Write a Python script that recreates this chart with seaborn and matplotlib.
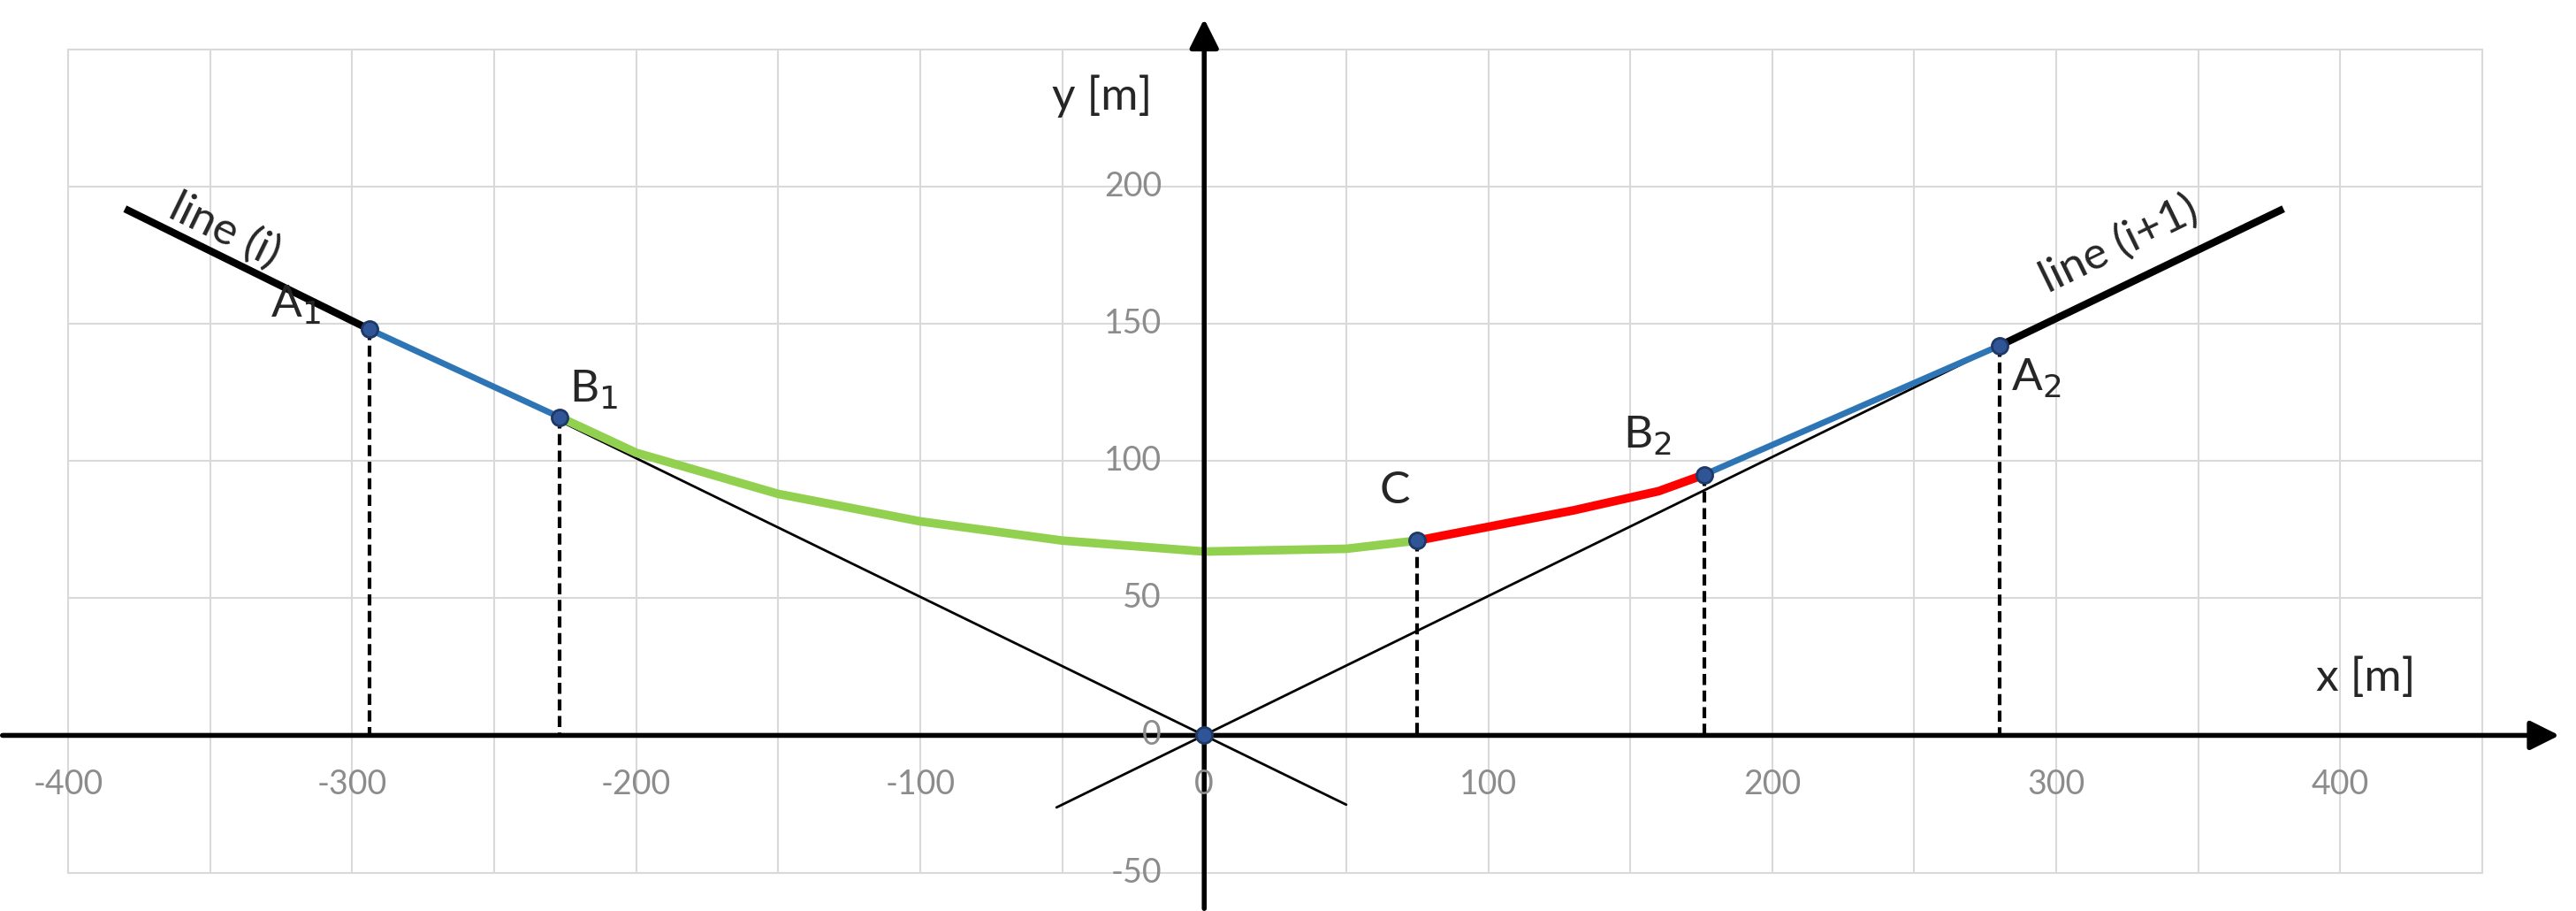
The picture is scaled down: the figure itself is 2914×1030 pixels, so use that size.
import matplotlib
matplotlib.use("Agg")
import matplotlib.pyplot as plt
import seaborn as sns
import numpy as np

sns.set_theme(style="white")
plt.rcParams['font.family'] = ['Lato', 'DejaVu Sans']

green_x = [-227, -200, -150, -100, -50, 0, 50, 75]
green_y = [116, 103, 88, 78, 71, 67, 68, 71]
red_x = [75, 100, 130, 160, 176]
red_y = [71, 76, 82, 89, 95]
pts_x = [-294, -227, 75, 176, 280, 0]
pts_y = [148, 116, 71, 95, 142, 0]
xticks = [-400, -300, -200, -100, 0, 100, 200, 300, 400]
yticks = [-50, 0, 50, 100, 150, 200]

fig = plt.figure(figsize=(29.14, 10.3), dpi=100)
ax = fig.add_axes([0, 0, 1, 1])
ax.set_xlim(-424, 483)
ax.set_ylim(-64, 268)
ax.axis('off')

for gx in np.arange(-400, 451, 50):
    ax.plot([gx, gx], [-50, 250], color='#d9d9d9', lw=1.5, zorder=0)
for gy in np.arange(-50, 251, 50):
    ax.plot([-400, 450], [gy, gy], color='#d9d9d9', lw=1.5, zorder=0)

# axes with arrows
ax.annotate('', xy=(478, 0), xytext=(-424, 0),
            arrowprops=dict(arrowstyle='-|>', lw=4, color='black', mutation_scale=50))
ax.annotate('', xy=(0, 262), xytext=(0, -64),
            arrowprops=dict(arrowstyle='-|>', lw=4, color='black', mutation_scale=50))

for t in xticks:
    ax.text(t, -12, str(t), ha='center', va='top', fontsize=27, color='#8c8c8c')
for t in yticks:
    ax.text(-15, t, str(t), ha='right', va='center', fontsize=27, color='#8c8c8c')

k = 0.505
# thin lines
ax.plot([-227, 50], [k*227, -k*50], color='black', lw=2)
ax.plot([-52, 280], [-k*52, 142], color='black', lw=2)
# thick lines
ax.plot([-380, -294], [k*380, 148], color='black', lw=6, solid_capstyle='butt')
ax.plot([280, 380], [142, k*380], color='black', lw=6, solid_capstyle='butt')

# colored curves
ax.plot([-294, -227], [148, 116], color='#2e75b6', lw=5)
ax.plot([176, 280], [95, 142], color='#2e75b6', lw=5)
sns.lineplot(x=green_x, y=green_y, ax=ax, color='#92d050', lw=7, sort=False)
sns.lineplot(x=red_x, y=red_y, ax=ax, color='#ff0000', lw=7, sort=False)

for px, py in zip(pts_x[:5], pts_y[:5]):
    ax.plot([px, px], [py, 0], color='black', lw=3, ls=(0, (3, 1.5)), zorder=2)
ax.scatter(pts_x, pts_y, s=170, color='#2f5597', edgecolor='#1f3864', lw=2, zorder=5)

fs = 37
ax.text(-320, 157, 'A$_1$', fontsize=fs, ha='center', va='center')
ax.text(-215, 126, 'B$_1$', fontsize=fs, ha='center', va='center')
ax.text(67, 89, 'C', fontsize=fs, ha='center', va='center')
ax.text(156, 109, 'B$_2$', fontsize=fs, ha='center', va='center')
ax.text(293, 130, 'A$_2$', fontsize=fs, ha='center', va='center')
ax.text(-36, 233, 'y [m]', fontsize=fs, ha='center', va='center')
ax.text(409, 21, 'x [m]', fontsize=fs, ha='center', va='center')
ax.text(-345, 184, 'line (i)', fontsize=fs, ha='center', va='center', rotation=-26)
ax.text(322, 179, 'line (i+1)', fontsize=fs, ha='center', va='center', rotation=26)

fig.savefig('out.png', dpi=100)
